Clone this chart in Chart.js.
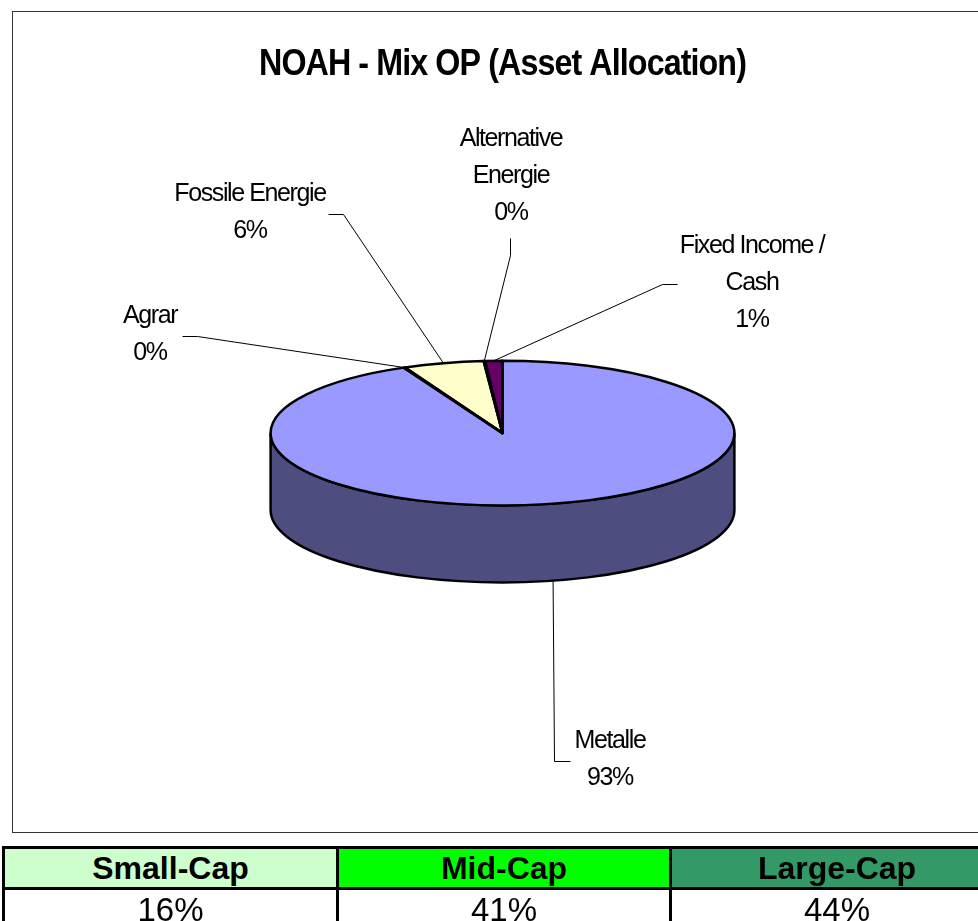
<!DOCTYPE html>
<html>
<head>
<meta charset="utf-8">
<title>NOAH - Mix OP (Asset Allocation)</title>
<script src="https://cdn.jsdelivr.net/npm/chart.js@4"></script>
<style>
    html, body { margin: 0; padding: 0; background: #fff; overflow: hidden; width: 978px; height: 921px; }
    #wrap { position: relative; width: 978px; height: 921px; overflow: hidden; }
    canvas { position: absolute; left: 0; top: 0; }
    table {
        position: absolute; left: 2px; top: 846px; width: 1000px; table-layout: fixed;
        border-collapse: collapse; font-family: "Liberation Sans", Arial, sans-serif; color: #000;
    }
    td { border: 3px solid #000; padding: 0; text-align: center; overflow: hidden; }
    tr.head td { height: 38px; font-size: 32px; font-weight: bold; padding-top: 1px; box-sizing: border-box; }
    tr.vals td { height: 40px; font-size: 33px; }
</style>
</head>
<body>
<div id="wrap">
    <canvas id="mixChart" width="978" height="921"></canvas>
    <table>
        <colgroup id="cols"></colgroup>
        <tr class="head" id="capHead"></tr>
        <tr class="vals" id="capVals"></tr>
    </table>
</div>
<script>
// Chart data
const titleText = 'NOAH - Mix OP (Asset Allocation)';
const categories = ['Metalle', 'Agrar', 'Fossile Energie', 'Alternative Energie', 'Fixed Income / Cash'];
const labelLines = [['Metalle'], ['Agrar'], ['Fossile Energie'], ['Alternative', 'Energie'], ['Fixed Income /', 'Cash']];
const values = [93.0, 0.1, 5.6, 0.1, 1.2];
const sliceColors = ['#9999ff', '#993366', '#ffffcc', '#ccffff', '#660066'];
const wallColors = ['#4d4d80', '#4d1a33', '#808066', '#668080', '#330033'];

// Table below the chart
const capNames = ['Small-Cap', 'Mid-Cap', 'Large-Cap'];
const capValues = ['16%', '41%', '44%'];
const capColors = ['#ccffcc', '#00ff00', '#339966'];
const capWidths = [334, 333, 333];

// Page layout of the tilted pie and its labels
const squash = 0.312;
const depth = 77;
const outlineWidth = 2.5;
const labelFont = '25px "Liberation Sans", Arial, sans-serif';
const rowHeight = 37;
// label centre x, first row y, elbow of the leader line (x, y, then the stub end x)
const labelLayout = [
    { x: 610, y: 741, elbowX: 554, elbowY: 761, stubX: 570, onWall: true },
    { x: 150, y: 316, elbowX: 197, elbowY: 336, stubX: 182 },
    { x: 250, y: 194, elbowX: 343, elbowY: 214, stubX: 328 },
    { x: 511, y: 139, elbowX: 510, elbowY: 255, stubX: 510, stubY: 238 },
    { x: 752, y: 246, elbowX: 662, elbowY: 284, stubX: 677 }
];

capWidths.forEach(function(w) {
    const col = document.createElement('col');
    col.style.width = w + 'px';
    document.getElementById('cols').appendChild(col);
});
capNames.forEach(function(name, i) {
    const head = document.createElement('td');
    head.textContent = name;
    head.style.background = capColors[i];
    document.getElementById('capHead').appendChild(head);
    const val = document.createElement('td');
    val.textContent = capValues[i];
    document.getElementById('capVals').appendChild(val);
});

// Wall, squashed top and outlines. The arcs themselves stay with the library.
const tiltPlugin = {
    id: 'tilt',
    beforeDraw(chart) {
        const ctx = chart.ctx;
        ctx.letterSpacing = '-1px';
        ctx.save();
        ctx.strokeStyle = '#333';
        ctx.lineWidth = 1;
        ctx.strokeRect(12.5, 11.5, 1000, 821);
        ctx.restore();
    },
    beforeDatasetsDraw(chart) {
        const ctx = chart.ctx;
        const arcs = chart.getDatasetMeta(0).data;
        ctx.save();
        arcs.forEach(function(arc, i) {
            const a0 = Math.max(arc.startAngle, 0);
            const a1 = Math.min(arc.endAngle, Math.PI);
            if (a1 <= a0) return;
            const ry = arc.outerRadius * squash;
            ctx.beginPath();
            ctx.ellipse(arc.x, arc.y + depth, arc.outerRadius, ry, 0, a0, a1);
            ctx.ellipse(arc.x, arc.y, arc.outerRadius, ry, 0, a1, a0, true);
            ctx.closePath();
            ctx.fillStyle = wallColors[i];
            ctx.fill();
            ctx.strokeStyle = '#000';
            ctx.lineWidth = outlineWidth;
            ctx.stroke();
        });
        ctx.restore();
        const first = arcs[0];
        ctx.save();
        ctx.translate(first.x, first.y);
        ctx.scale(1, squash);
        ctx.translate(-first.x, -first.y);
    },
    afterDatasetsDraw(chart) {
        const ctx = chart.ctx;
        ctx.restore();
        const arcs = chart.getDatasetMeta(0).data;
        const total = values.reduce(function(a, b) { return a + b; }, 0);

        // slice outlines, stroked unsquashed so the line width stays even
        ctx.save();
        ctx.strokeStyle = '#000';
        ctx.lineWidth = outlineWidth;
        ctx.lineJoin = 'round';
        arcs.forEach(function(arc) {
            const ry = arc.outerRadius * squash;
            ctx.beginPath();
            ctx.moveTo(arc.x, arc.y);
            ctx.ellipse(arc.x, arc.y, arc.outerRadius, ry, 0, arc.startAngle, arc.endAngle);
            ctx.closePath();
            ctx.stroke();
        });
        ctx.restore();

        // leader lines and labels
        ctx.save();
        ctx.fillStyle = '#000';
        ctx.font = labelFont;
        ctx.letterSpacing = '-1.4px';
        ctx.textAlign = 'center';
        ctx.textBaseline = 'middle';
        arcs.forEach(function(arc, i) {
            const pos = labelLayout[i];
            const mid = (arc.startAngle + arc.endAngle) / 2;
            const px = arc.x + arc.outerRadius * Math.cos(mid);
            const py = arc.y + arc.outerRadius * squash * Math.sin(mid) + (pos.onWall ? depth : 0);
            ctx.beginPath();
            ctx.moveTo(px, py);
            ctx.lineTo(pos.elbowX + 0.5, pos.elbowY + 0.5);
            ctx.lineTo(pos.stubX + 0.5, (pos.stubY === undefined ? pos.elbowY : pos.stubY) + 0.5);
            ctx.strokeStyle = '#000';
            ctx.lineWidth = 1;
            ctx.stroke();

            const rows = labelLines[i].concat(Math.round(values[i] / total * 100) + '%');
            rows.forEach(function(row, r) {
                ctx.fillText(row, pos.x, pos.y + r * rowHeight);
            });
        });
        ctx.restore();
    }
};

const mixChart = new Chart(document.getElementById('mixChart'), {
    type: 'pie',
    data: {
        labels: categories,
        datasets: [{
            data: values,
            backgroundColor: sliceColors,
            borderWidth: 0
        }]
    },
    options: {
        responsive: false,
        animation: false,
        layout: {
            // this width also squeezes the title to the reference's narrow lettering
            padding: { top: 43, left: 259, right: 232, bottom: 256 }
        },
        plugins: {
            legend: { display: false },
            tooltip: { enabled: false },
            title: {
                display: true,
                text: titleText,
                color: '#000',
                font: { family: '"Liberation Sans", Arial, sans-serif', size: 36, weight: 'bold', lineHeight: 1.2 },
                padding: { top: 0, bottom: 115 }
            }
        }
    },
    plugins: [tiltPlugin]
});
</script>
</body>
</html>
